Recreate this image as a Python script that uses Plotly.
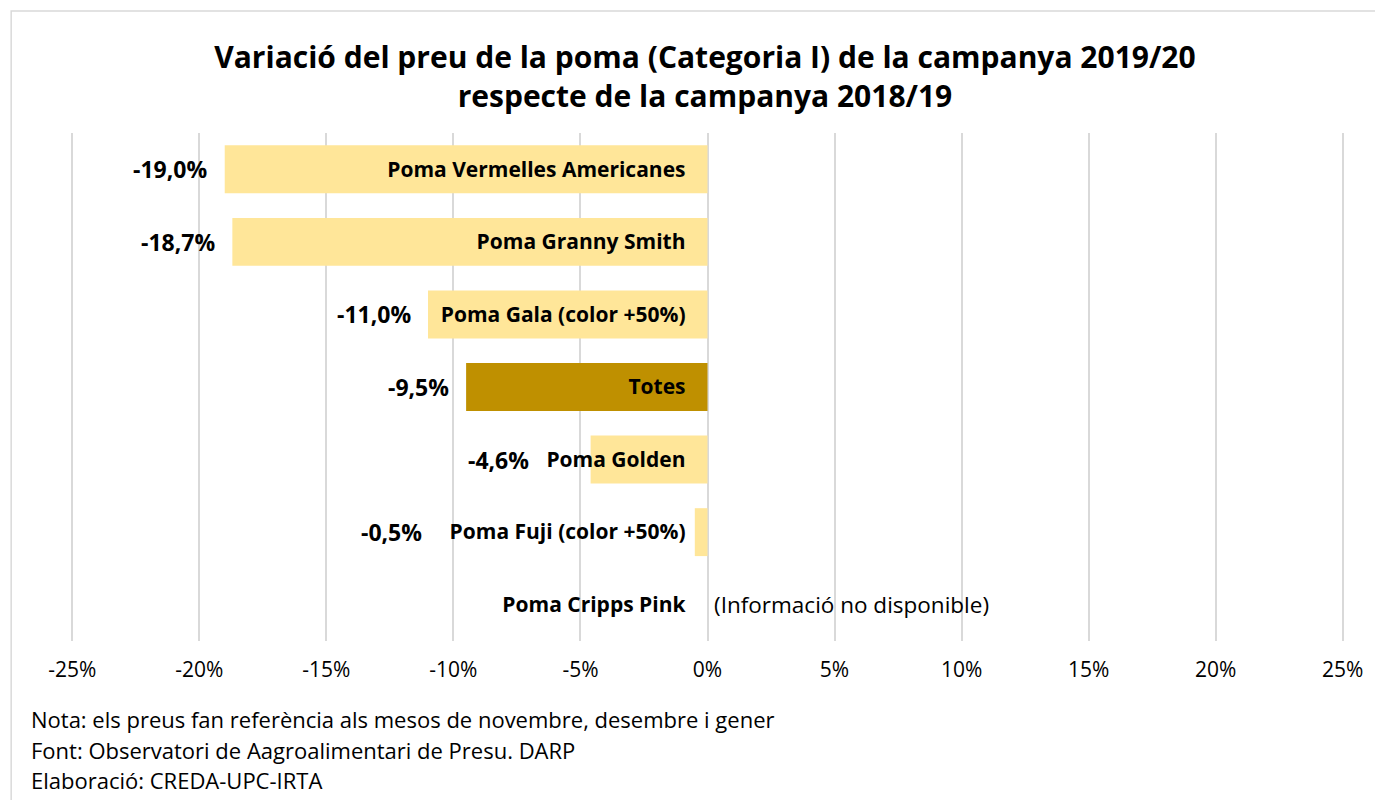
import plotly.graph_objects as go

# datos
categorias = ['Poma Vermelles Americanes', 'Poma Granny Smith', 'Poma Gala (color +50%)',
              'Totes', 'Poma Golden', 'Poma Fuji (color +50%)', 'Poma Cripps Pink']
variacion = [-19.0, -18.7, -11.0, -9.5, -4.6, -0.5, None]
colores = ['#FFE699', '#FFE699', '#FFE699', '#BF9000', '#FFE699', '#FFE699', '#FFE699']
desplaz_etiqueta = [-16, -15, -15, -15, -60, -271, 0]

ticks_x = [-25, -20, -15, -10, -5, 0, 5, 10, 15, 20, 25]
ticks_txt = [f'{t}%' for t in ticks_x]

notas = ['Nota: els preus fan referència als mesos de novembre, desembre i gener',
         'Font: Observatori de Aagroalimentari de Presu. DARP',
         'Elaboració: CREDA-UPC-IRTA']

fuente = 'Open Sans, sans-serif'

fig = go.Figure()

fig.add_trace(go.Bar(
    x=variacion,
    y=categorias,
    orientation='h',
    marker=dict(color=colores, line=dict(width=0)),
    hoverinfo='skip',
))

# etiquetas de valor
for cat, v, dx in zip(categorias, variacion, desplaz_etiqueta):
    if v is None:
        continue
    fig.add_annotation(
        x=v, y=cat, xref='x', yref='y',
        text=f'{v:.1f}%'.replace('.', ','),
        showarrow=False, xanchor='right', xshift=dx,
        font=dict(family=fuente, size=23, color='black', weight='bold'),
    )

fig.add_annotation(
    x=0, y=categorias[-1], xref='x', yref='y',
    text='(Informació no disponible)',
    showarrow=False, xanchor='left', xshift=4,
    font=dict(family=fuente, size=22.5, color='black'),
)

ys = [-0.1535, -0.2146, -0.2736]
for txt, yy in zip(notas, ys):
    fig.add_annotation(
        x=-0.033, y=yy, xref='paper', yref='paper',
        text=txt, showarrow=False, xanchor='left', yanchor='middle',
        font=dict(family=fuente, size=22, color='black'),
    )

# marco del grafico
fig.add_shape(type='rect', xref='paper', yref='paper',
              x0=-0.047, x1=1.05, y0=-0.4, y1=1.240,
              line=dict(color='#D9D9D9', width=1.5), fillcolor='rgba(0,0,0,0)')

fig.update_layout(
    title=dict(text='Variació del preu de la poma (Categoria I) de la campanya 2019/20<br>respecte de la campanya 2018/19',
               x=0.5127, xanchor='center', y=0.915, yanchor='middle',
               font=dict(family=fuente, size=30, color='black', weight='bold')),
    width=1375, height=800,
    margin=dict(l=71, r=27, t=133, b=159),
    paper_bgcolor='white',
    plot_bgcolor='white',
    bargap=0.34,
    showlegend=False,
    xaxis=dict(range=[-25.05, 25.05], tickvals=ticks_x, ticktext=ticks_txt,
               showgrid=True, gridcolor='#D9D9D9', gridwidth=1.5,
               zeroline=False, showline=False, ticks='',
               ticklabelstandoff=14,
               tickfont=dict(family=fuente, size=21, color='black'),
               fixedrange=True),
    yaxis=dict(categoryorder='array', categoryarray=categorias, autorange='reversed',
               anchor='free', position=0.5, showgrid=False, zeroline=False,
               showline=False, ticks='', ticklabelstandoff=22,
               tickfont=dict(family=fuente, size=21, color='black', weight='bold'),
               automargin=False, fixedrange=True),
)

fig.write_html('out.html', config={'displayModeBar': False},
               post_script="document.body.style.margin='0px';")
